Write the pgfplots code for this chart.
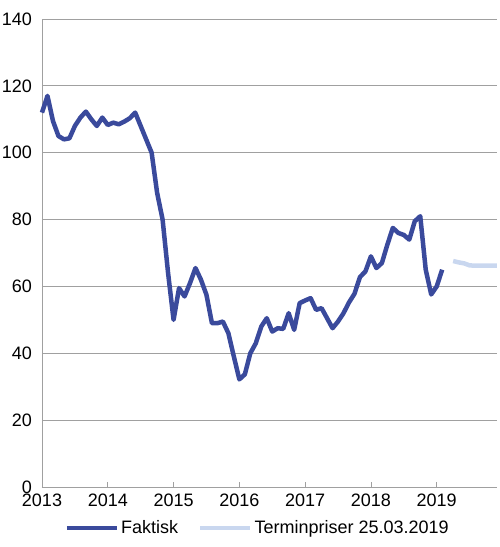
\documentclass[border=0pt]{standalone}
\usepackage{fontspec}
\setmainfont{Liberation Sans}
\usepackage{pgfplots}
\pgfplotsset{compat=1.18}

\definecolor{faktisk}{HTML}{3A4A9C}
\definecolor{termin}{HTML}{C9D7EF}
\definecolor{gridgray}{HTML}{A0A0A0}

% months counted from Jan 2013 = 0
\pgfplotstableread{
m v
0 112
1 117
2 109.5
3 105
4 104
5 104.3
6 108
7 110.5
8 112.3
9 110
10 108
11 110.5
12 108.3
13 109
14 108.5
15 109.3
16 110.3
17 112
18 108
19 104
20 100
21 88
22 80
23 64
24 50
25 59.5
26 57
27 61
28 65.5
29 62
30 57.5
31 49
32 49
33 49.5
34 46
35 39
36 32.2
37 33.7
38 40
39 43
40 48
41 50.5
42 46.5
43 47.5
44 47.3
45 52
46 47
47 55
48 55.8
49 56.5
50 53
51 53.5
52 50.5
53 47.5
54 49.5
55 52
56 55.2
57 57.8
58 62.8
59 64.5
60 69
61 65.5
62 67
63 72.5
64 77.5
65 76
66 75.4
67 74
68 79.5
69 81
70 65
71 57.6
72 60
73 65
}\faktisk

\pgfplotstableread{
m v
75 67.6
76 67.2
77 66.9
78 66.3
79 66.2
80 66.2
81 66.2
82 66.2
83 66.2
}\termin

\begin{document}
\begin{tikzpicture}
\begin{axis}[
  scale only axis,
  width=455pt, height=468pt,
  xmin=0, xmax=83,
  ymin=0, ymax=140,
  xtick={0,12,...,72},
  xticklabels={2013,2014,2015,2016,2017,2018,2019},
  ytick={0,20,...,140},
  font=\fontsize{18}{21}\selectfont,
  /pgf/number format/assume math mode=true,
  axis x line*=bottom, axis y line*=left,
  axis line style={-, draw=gridgray, line width=0.8pt},
  ymajorgrids,
  grid style={draw=gridgray, line width=0.8pt},
  tick align=inside,
  major tick length=5pt,
  xtick style={draw=gridgray, line width=0.8pt},
  ytick style={draw=none},
  yticklabel style={inner sep=0pt, anchor=east, xshift=-10pt},
  xticklabel style={inner sep=0pt, anchor=north, yshift=-7pt},
  clip=false,
  legend columns=2,
  legend style={at={(0.474,-0.088)}, anchor=center, draw=none, fill=none,
    font=\fontsize{18}{21}\selectfont,
    /tikz/every even column/.append style={column sep=18pt}},
  legend image code/.code={\draw[#1] (0pt,0pt) -- (50pt,0pt);},
]
\addplot[faktisk, line width=4.5pt, line join=round] table[x=m, y=v] {\faktisk};
\addlegendentry{Faktisk}
\addplot[termin, line width=4.5pt, line join=round] table[x=m, y=v] {\termin};
\addlegendentry{Terminpriser 25.03.2019}
\end{axis}
\path ([xshift=-42pt,yshift=-60pt]current axis.south west) rectangle ([xshift=3pt,yshift=19pt]current axis.north east);
\end{tikzpicture}
\end{document}
